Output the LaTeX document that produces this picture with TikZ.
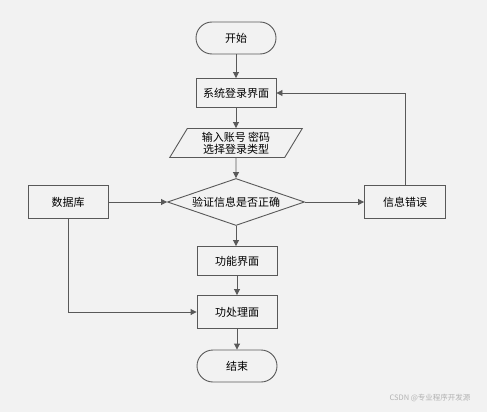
\documentclass[tikz,border=0pt]{standalone}
\usepackage{fontspec}
\newfontfamily\cjk{Noto Sans CJK SC}
\usetikzlibrary{shapes.geometric,arrows.meta}
\definecolor{bg}{HTML}{F2F2F2}
\definecolor{ln}{HTML}{595959}
\tikzset{
  base/.style={draw=ln, line width=0.9pt, fill=bg, font=\cjk\fontsize{11}{13}\selectfont, text=black, inner sep=0pt},
  procbox/.style={base, rectangle, minimum width=80pt, minimum height=29pt},
  term/.style={base, rectangle, rounded corners=16pt, minimum width=80pt, minimum height=32pt},
  iobox/.style={base, trapezium, trapezium left angle=61, trapezium right angle=119, minimum width=133pt, minimum height=29pt, align=center, trapezium stretches=true},
  decide/.style={base, diamond, aspect=2.9, minimum width=137pt, minimum height=47pt, inner sep=0pt},
  conn/.style={draw=ln, line width=0.9pt, -{Triangle[length=6pt,width=6pt]}},
  plain/.style={draw=ln, line width=0.9pt}
}
\begin{document}
\begin{tikzpicture}[x=1pt,y=-1pt]
\fill[bg] (0,0) rectangle (487,412);
\useasboundingbox (0,0) rectangle (487,412);
\node[term] (start) at (236,38) {开始};
\node[procbox] (login) at (236,93) {系统登录界面};
\node[iobox] (input) at (236,143) {输入账号 密码\\[-1pt]选择登录类型};
\node[decide] (check) at (236,202) {验证信息是否正确};
\node[procbox, minimum height=33pt] (db) at (68,202) {数据库};
\node[procbox, minimum width=81pt, minimum height=33pt] (err) at (405,202) {信息错误};
\node[procbox] (func) at (237,261) {功能界面};
\node[procbox, minimum height=33pt] (proc) at (237,312) {功处理面};
\node[term] (end) at (237,366) {结束};
\node[font=\cjk\fontsize{7.5}{9}\selectfont, text=black!30] (wm) at (430,398) {CSDN @专业程序开发源};
\draw[conn] (start) -- (login);
\draw[conn] (login) -- (input);
\draw[conn] (input) -- (check);
\draw[conn] (db) -- (check);
\draw[conn] (check) -- (err);
\draw[conn] (err.north) |- (login.east);
\draw[conn] (check.south) -- (check.south |- func.north);
\draw[conn] (func) -- (proc);
\draw[conn] (db.south) |- (proc.west);
\draw[conn] (proc) -- (end);
\end{tikzpicture}
\end{document}
